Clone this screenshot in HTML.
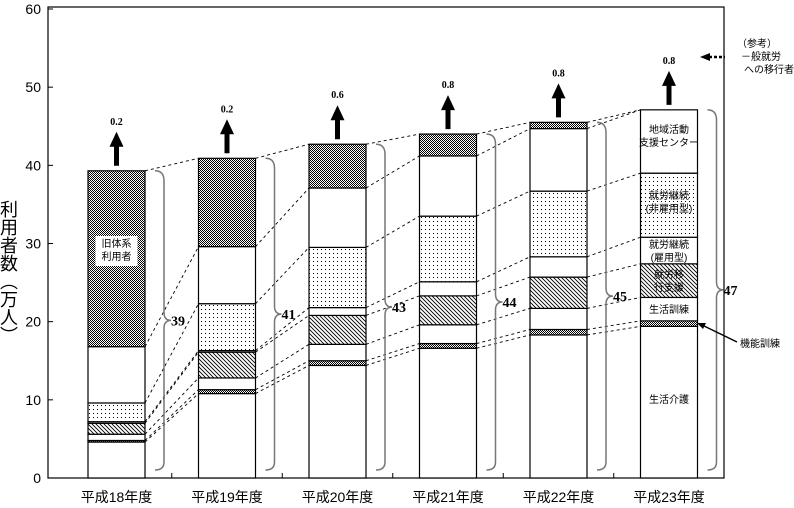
<!DOCTYPE html>
<html><head><meta charset="utf-8"><style>
html,body{margin:0;padding:0;background:#fff;}
svg{display:block;font-family:"Liberation Sans","Noto Sans CJK JP",sans-serif;}
</style></head><body>
<svg id="chart" width="794" height="508" viewBox="0 0 794 508" xmlns="http://www.w3.org/2000/svg">
<defs>
<pattern id="pGrid" width="2" height="2" patternUnits="userSpaceOnUse"><rect width="2" height="2" fill="#fff"/><rect width="1" height="1" fill="#000"/><rect x="1" y="1" width="1" height="1" fill="#000"/></pattern>
<pattern id="pGridLight" width="3" height="3" patternUnits="userSpaceOnUse"><rect width="3" height="3" fill="#fff"/><rect width="1" height="1" fill="#000"/><rect x="1" y="1" width="1" height="1" fill="#555"/></pattern>
<pattern id="pDots" width="4" height="4" patternUnits="userSpaceOnUse"><rect width="4" height="4" fill="#fff"/><rect x="1" y="1" width="1" height="1" fill="#000"/></pattern>
<pattern id="pHatch" width="4" height="4" patternUnits="userSpaceOnUse"><rect width="4" height="4" fill="#fff"/><path d="M-1,-1 L5,5 M-1,3 L1,5 M3,-1 L5,1" stroke="#000" stroke-width="0.9"/></pattern>
</defs>
<g id="frame"></g>
<g id="links"></g>
<g id="bars"></g>
<g id="ann"></g>
<text x="0" y="0" font-size="18" fill="#000" style="writing-mode:vertical-rl" transform="translate(8,200)">利用者数（万人）</text>
<g>
<text x="737" y="47" font-size="10">（参考）</text>
<text x="741" y="60" font-size="10">－般就労</text>
<text x="744" y="73" font-size="10">への移行者</text>
<line x1="709" y1="57" x2="725" y2="57" stroke="#000" stroke-width="2.5" stroke-dasharray="3,2"/>
<polygon points="700,57 710,53 710,61" fill="#000"/>
</g>
<g>
<text x="740" y="347" font-size="10">機能訓練</text>
<line x1="737" y1="342" x2="702" y2="325" stroke="#000" stroke-width="1.5"/>
<polygon points="697,323 706,323 703,329" fill="#000"/>
</g>
</svg>
<script>
const years = ["平成18年度","平成19年度","平成20年度","平成21年度","平成22年度","平成23年度"];
const seikatsuKaigo = [4.6,10.8,14.4,16.6,18.3,19.4];
const kinouKunren = [0.2,0.5,0.6,0.6,0.7,0.7];
const seikatsuKunren = [0.8,1.5,2.1,2.4,2.7,3.0];
const shuroIkou = [1.4,3.3,3.7,3.7,4.0,4.3];
const keizokuKoyou = [0.2,0.2,1.0,1.8,2.6,3.4];
const keizokuHikoyou = [2.4,6.0,7.7,8.4,8.4,8.2];
const chiikiCenter = [7.2,7.3,7.6,7.7,8.0,8.1];
const kyuTaikei = [22.5,11.3,5.6,2.8,0.8,0];
const totalLabels = ["39","41","43","44","45","47"];
const transitionLabels = ["0.2","0.2","0.6","0.8","0.8","0.8"];
const yTicks = [0,10,20,30,40,50,60];

const NS="http://www.w3.org/2000/svg";
const X0=48,X1=724,Y0=478,Y1=9,YMAX=60;
function yS(v){return Y0-(v/YMAX)*(Y0-Y1);}
const BW=57;
function xC(i){return 116.5+i*110.5;}
function mk(tag,attrs,parent){const e=document.createElementNS(NS,tag);for(const k in attrs)e.setAttribute(k,attrs[k]);parent.appendChild(e);return e;}

const series=[
 {name:"seikatsu-kaigo",vals:seikatsuKaigo,fill:"#fff"},
 {name:"kinou-kunren",vals:kinouKunren,fill:"url(#pGrid)"},
 {name:"seikatsu-kunren",vals:seikatsuKunren,fill:"#fff"},
 {name:"shuro-ikou",vals:shuroIkou,fill:"url(#pHatch)"},
 {name:"keizoku-koyou",vals:keizokuKoyou,fill:"#fff"},
 {name:"keizoku-hikoyou",vals:keizokuHikoyou,fill:"url(#pDots)"},
 {name:"chiiki-center",vals:chiikiCenter,fill:"#fff"},
 {name:"kyu-taikei",vals:kyuTaikei,fill:"url(#pGrid)"}
];

const frame=document.getElementById('frame');
const fr=mk('rect',{x:X0,y:Y1-2,width:X1-X0,height:Y0-Y1+2,fill:"none",stroke:"#000","stroke-width":1.2},frame);


yTicks.forEach(t=>{
 const l=mk('line',{x1:X0,x2:X0+5,y1:yS(t),y2:yS(t),stroke:"#000"},frame);
 
 
 const tx=mk('text',{x:X0-7,y:yS(t)+5,"text-anchor":"end","font-size":14},frame);
 tx.textContent=t;
 
 
});
years.forEach((yr,i)=>{
 if(i<years.length-1){
  const xm=(xC(i)+xC(i+1))/2;
  const l=mk('line',{x1:xm,x2:xm,y1:Y0,y2:Y0-5,stroke:"#000"},frame);
  
  
 }
 const tx=mk('text',{x:xC(i),y:502,"text-anchor":"middle","font-size":14},frame);
 tx.textContent=yr;
 
 
});

// cumulative
const cum=years.map((_,i)=>{let c=0;return series.map(s=>{c+=s.vals[i];return c;});});

const links=document.getElementById('links');
for(let i=0;i<years.length-1;i++){
 series.forEach((s,k)=>{
  const l=mk('line',{x1:xC(i)+BW/2,y1:yS(cum[i][k]),x2:xC(i+1)-BW/2,y2:yS(cum[i+1][k]),stroke:"#000","stroke-width":0.9,"stroke-dasharray":"3,3"},links);
  
  
 });
}

const bars=document.getElementById('bars');
const ann=document.getElementById('ann');
years.forEach((yr,i)=>{
 let base=0;
 series.forEach((s,k)=>{
  const v=s.vals[i];
  if(v>0){
   const r=mk('rect',{x:xC(i)-BW/2,y:yS(base+v),width:BW,height:yS(base)-yS(base+v),fill:s.fill,stroke:"#000","stroke-width":1.2},bars);
   
   
  }
  base+=v;
 });
 const top=yS(base);
 // arrow
 const ax=xC(i);
 const a=mk('path',{d:`M${ax-2.5},${top-5} L${ax-2.5},${top-24} L${ax-7},${top-24} L${ax},${top-39} L${ax+7},${top-24} L${ax+2.5},${top-24} L${ax+2.5},${top-5} Z`,fill:"#000"},ann);
 
 
 const at=mk('text',{x:ax,y:top-46,"text-anchor":"middle","font-size":10,"font-weight":"bold","font-family":"Liberation Serif, serif"},ann);
 at.textContent=transitionLabels[i];
 
 
 // brace
 const bx=xC(i)+BW/2+13, yt=top, yb=Y0-8, ym=(yt+yb)/2;
 const b=mk('path',{d:`M${bx-3},${yt} Q${bx+6},${yt} ${bx+6},${yt+10} L${bx+6},${ym-8} Q${bx+6},${ym} ${bx+13},${ym} Q${bx+6},${ym} ${bx+6},${ym+8} L${bx+6},${yb-8} Q${bx+6},${yb} ${bx-3},${yb}`,fill:"none",stroke:"#777","stroke-width":1.5},ann);
 
 
 const bt=mk('text',{x:bx+13,y:ym+5,"font-size":14,"font-weight":"bold","font-family":"Liberation Serif, serif"},ann);
 bt.textContent=totalLabels[i];
 
 
});

// in-bar labels
function lbl(lines,x,y,name,bg){
 const g=mk('g',{},ann);
 
 
 if(bg){mk('rect',{x:x-21,y:y-11,width:42,height:lines.length*13+4,fill:"#fff"},g);}
 lines.forEach((t,j)=>{const tx=mk('text',{x:x,y:y+j*13,"text-anchor":"middle","font-size":10},g);tx.textContent=t;});
}
const cx6=xC(5);
lbl(["地域活動","支援センター"],cx6,133,"label-chiiki-center");
lbl(["就労継続","(非雇用型)"],cx6,199,"label-keizoku-hikoyou");
lbl(["就労継続","(雇用型)"],cx6,248,"label-keizoku-koyou");
lbl(["就労移","行支援"],cx6,278,"label-shuro-ikou",false);
lbl(["生活訓練"],cx6,313,"label-seikatsu-kunren");
lbl(["生活介護"],cx6,403,"label-seikatsu-kaigo");
lbl(["旧体系","利用者"],xC(0),247,"label-kyu-taikei",true);
</script>
</body></html>
